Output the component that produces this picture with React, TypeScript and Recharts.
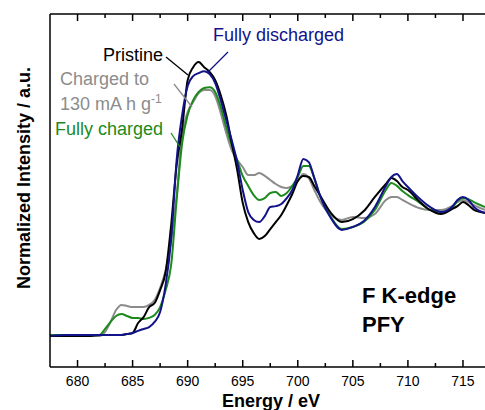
import React from "react";
import { LineChart, Line, XAxis, YAxis } from "recharts";

const energy = [
  677.5, 679, 680, 681, 682, 682.5, 683, 683.5, 684, 684.5,
  685, 685.5, 686, 686.5, 687, 687.5, 688, 688.5, 689, 689.5,
  690, 690.5, 691, 691.5, 692, 692.5, 693, 693.5, 694, 694.5,
  695, 695.5, 696, 696.5, 697, 697.5, 698, 698.5, 699, 699.5,
  700, 700.5, 701, 701.5, 702, 703, 704, 705, 706, 707,
  708, 708.5, 709, 709.5, 710, 711, 712, 713, 714, 714.5,
  715, 715.5, 716, 717,
];

const pristine = [
  0, 0, 0, 0, 0.004, 0.004, 0.004, 0.004, 0.004, 0.007,
  0.011, 0.048, 0.07, 0.107, 0.122, 0.17, 0.237, 0.411, 0.633, 0.77,
  0.948, 0.996, 1.015, 0.996, 0.978, 0.948, 0.893, 0.819, 0.715, 0.615,
  0.493, 0.422, 0.381, 0.359, 0.37, 0.396, 0.422, 0.448, 0.485, 0.526,
  0.574, 0.593, 0.589, 0.556, 0.522, 0.456, 0.422, 0.433, 0.463, 0.515,
  0.563, 0.585, 0.574, 0.552, 0.541, 0.5, 0.467, 0.452, 0.47, 0.481,
  0.496, 0.485, 0.467, 0.456,
];

const fullyDischarged = [
  0, 0.004, 0.004, 0.004, 0.004, 0.004, 0.004, 0.004, 0.004, 0.007,
  0.011, 0.019, 0.026, 0.033, 0.052, 0.089, 0.189, 0.356, 0.652, 0.819,
  0.926, 0.963, 0.974, 0.981, 0.97, 0.937, 0.874, 0.8, 0.726, 0.644,
  0.541, 0.459, 0.43, 0.422, 0.444, 0.478, 0.481, 0.489, 0.511, 0.541,
  0.596, 0.656, 0.644, 0.585, 0.522, 0.437, 0.393, 0.404, 0.426, 0.478,
  0.556, 0.589, 0.6, 0.574, 0.552, 0.511, 0.478, 0.459, 0.478, 0.504,
  0.515, 0.504, 0.478, 0.456,
];

const fullyCharged = [
  0.004, 0.004, 0.004, 0.004, 0.004, 0.026, 0.052, 0.074, 0.081, 0.074,
  0.067, 0.067, 0.063, 0.067, 0.078, 0.107, 0.17, 0.263, 0.504, 0.715,
  0.819, 0.874, 0.904, 0.919, 0.922, 0.904, 0.848, 0.774, 0.707, 0.652,
  0.593, 0.556, 0.522, 0.504, 0.511, 0.53, 0.533, 0.519, 0.53, 0.556,
  0.589, 0.63, 0.63, 0.585, 0.522, 0.441, 0.396, 0.404, 0.422, 0.467,
  0.541, 0.567, 0.556, 0.537, 0.522, 0.496, 0.467, 0.459, 0.474, 0.5,
  0.511, 0.507, 0.496, 0.478,
];

const charged130 = [
  0, 0, 0, 0, 0, 0.015, 0.052, 0.096, 0.115, 0.111,
  0.107, 0.107, 0.107, 0.115, 0.133, 0.178, 0.244, 0.356, 0.522, 0.744,
  0.83, 0.867, 0.9, 0.911, 0.911, 0.889, 0.826, 0.752, 0.689, 0.652,
  0.626, 0.596, 0.596, 0.604, 0.593, 0.578, 0.563, 0.552, 0.548, 0.556,
  0.574, 0.6, 0.585, 0.541, 0.5, 0.448, 0.43, 0.441, 0.437, 0.452,
  0.504, 0.515, 0.515, 0.504, 0.493, 0.474, 0.467, 0.467, 0.481, 0.496,
  0.504, 0.496, 0.485, 0.467,
];

const xTicks = [680, 682.5, 685, 687.5, 690, 692.5, 695, 697.5, 700, 702.5, 705, 707.5, 710, 712.5, 715];
const xDomain = [677.5, 717];
const yDomain = [-0.115, 1.193];

const data = energy.map((e, i) => ({
  e,
  pristine: pristine[i],
  discharged: fullyDischarged[i],
  charged: fullyCharged[i],
  charged130: charged130[i],
}));

const W = 485;
const H = 410;
const BOTTOM_AXIS_H = 30;
const TOP_AXIS_H = 4;
const Y_AXIS_W = 10;
const MARGIN = { top: 14 - TOP_AXIS_H, right: 0, bottom: 43 - BOTTOM_AXIS_H, left: 50 - Y_AXIS_W };
const AXIS_Y = H - 43;
const TOP_Y = 14;
const FONT = "'Liberation Sans', Arial, Helvetica, sans-serif";

const BLACK = "#000000";
const BLUE = "#12128a";
const GREEN = "#1c8a1c";
const GRAY = "#8c8c8c";

const BottomTick = (props: any) => {
  const { x, payload } = props;
  const v = payload.value;
  const major = v % 5 === 0;
  return (
    <g>
      <line x1={x} x2={x} y1={AXIS_Y} y2={AXIS_Y - (major ? 7 : 4)} stroke="#000" strokeWidth={1.5} />
      {major && (
        <text x={x} y={AXIS_Y + 19} textAnchor="middle" fontSize={14} fontFamily={FONT} fill="#000">
          {v}
        </text>
      )}
    </g>
  );
};

const TopTick = (props: any) => {
  const { x, payload } = props;
  const major = payload.value % 5 === 0;
  return (
    <line x1={x} x2={x} y1={TOP_Y} y2={TOP_Y + (major ? 7 : 4)} stroke="#000" strokeWidth={1.5} />
  );
};

export default function App() {
  return (
    <div style={{ position: "absolute", left: 0, top: 0, width: W, height: H, background: "#fff" }}>
      <LineChart width={W} height={H} data={data} margin={MARGIN}>
        <XAxis
          dataKey="e"
          type="number"
          domain={xDomain}
          ticks={xTicks}
          interval={0}
          allowDataOverflow
          height={BOTTOM_AXIS_H}
          tickLine={false}
          tick={<BottomTick />}
          axisLine={{ stroke: "#000", strokeWidth: 1.5 }}
        />
        <XAxis
          xAxisId="top"
          orientation="top"
          dataKey="e"
          type="number"
          domain={xDomain}
          ticks={xTicks}
          interval={0}
          allowDataOverflow
          height={TOP_AXIS_H}
          tickLine={false}
          tick={<TopTick />}
          axisLine={{ stroke: "#000", strokeWidth: 1.5 }}
        />
        <YAxis
          type="number"
          domain={yDomain}
          allowDataOverflow
          width={Y_AXIS_W}
          tick={false}
          tickLine={false}
          axisLine={{ stroke: "#000", strokeWidth: 1.5 }}
        />
        <Line type="monotone" dataKey="charged130" stroke={GRAY} strokeWidth={2} dot={false} isAnimationActive={false} />
        <Line type="monotone" dataKey="charged" stroke={GREEN} strokeWidth={2} dot={false} isAnimationActive={false} />
        <Line type="monotone" dataKey="pristine" stroke={BLACK} strokeWidth={2} dot={false} isAnimationActive={false} />
        <Line type="monotone" dataKey="discharged" stroke={BLUE} strokeWidth={2} dot={false} isAnimationActive={false} />
      </LineChart>
      <svg
        width={W}
        height={H}
        style={{ position: "absolute", left: 0, top: 0, pointerEvents: "none" }}
        fontFamily={FONT}
      >
        <text x={103} y={61} fontSize={18} fill={BLACK}>Pristine</text>
        <line x1={166} y1={57} x2={188} y2={75} stroke={BLACK} strokeWidth={1.3} />
        <text x={213} y={41} fontSize={18} fill={BLUE}>Fully discharged</text>
        <line x1={228} y1={52} x2={208} y2={72} stroke={BLUE} strokeWidth={1.3} />
        <text x={60} y={85} fontSize={18} fill={GRAY}>Charged to</text>
        <text x={60} y={110} fontSize={18} fill={GRAY}>
          130 mA h g<tspan dy={-7} fontSize={12}>-1</tspan>
        </text>
        <line x1={174} y1={84} x2={192} y2={107} stroke={GRAY} strokeWidth={1.3} />
        <text x={55} y={135} fontSize={18} fill={GREEN}>Fully charged</text>
        <line x1={171} y1={133} x2={180} y2={147} stroke={GREEN} strokeWidth={1.3} />
        <text x={362} y={303} fontSize={22} fontWeight="bold" fill={BLACK}>F K-edge</text>
        <text x={362} y={332} fontSize={22} fontWeight="bold" fill={BLACK}>PFY</text>
        <text x={271} y={407} fontSize={18} fontWeight="bold" textAnchor="middle" fill={BLACK}>Energy / eV</text>
        <text
          x={30}
          y={178}
          fontSize={18}
          fontWeight="bold"
          textAnchor="middle"
          fill={BLACK}
          transform="rotate(-90, 30, 178)"
        >
          Normalized Intensity / a.u.
        </text>
      </svg>
    </div>
  );
}
